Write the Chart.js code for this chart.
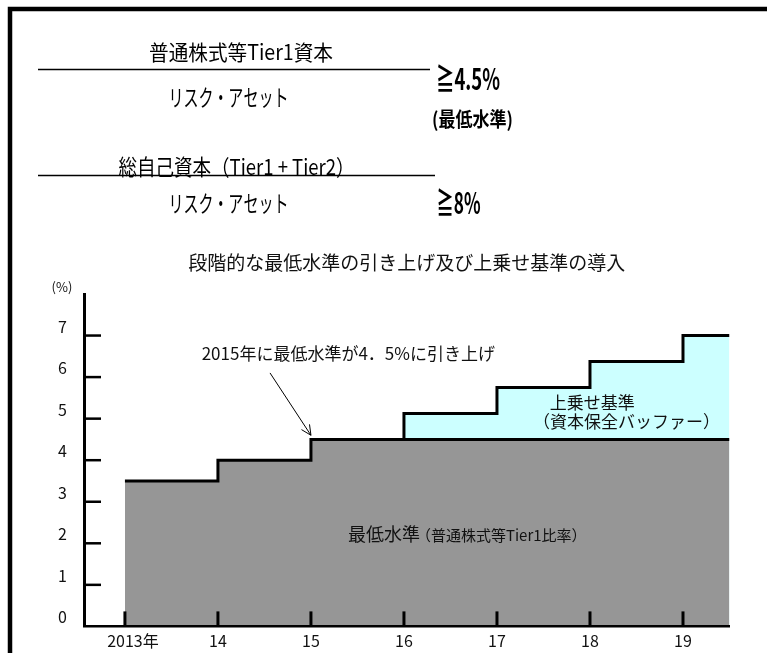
<!DOCTYPE html>
<html lang="ja">
<head>
<meta charset="utf-8">
<title>段階的な最低水準の引き上げ及び上乗せ基準の導入</title>
<script src="https://cdn.jsdelivr.net/npm/chart.js@4/dist/chart.umd.min.js"></script>
<style>
  html, body { margin: 0; padding: 0; background: #fff; overflow: hidden; }
  canvas { display: block; }
</style>
</head>
<body>
<canvas id="graficaCapital" width="767" height="653"></canvas>
<script>
// Years on the x axis and their labels
const years = [2013, 2014, 2015, 2016, 2017, 2018, 2019];
const yearLabels = ['2013年', '14', '15', '16', '17', '18', '19'];
const periodEnd = 2019.5; // the last step runs on to the edge of the plot

// Minimum CET1 ratio (%) per year
const minimumRatio = [3.5, 4.0, 4.5, 4.5, 4.5, 4.5, 4.5];
// Minimum + conservation buffer (%) per year, starts in 2016
const withBuffer = [null, null, null, 5.125, 5.75, 6.375, 7.0];

const yTicks = [0, 1, 2, 3, 4, 5, 6, 7];

const FONT = "'Noto Sans CJK JP', 'Noto Sans', sans-serif";

// Points for the stepped lines
const minimumPoints = years.map((x, i) => ({ x: x, y: minimumRatio[i] }));
minimumPoints.push({ x: periodEnd, y: minimumRatio[minimumRatio.length - 1] });

const firstBuffer = withBuffer.findIndex(v => v !== null);
const bufferPoints = [{ x: years[firstBuffer], y: minimumRatio[firstBuffer] }];
years.forEach((x, i) => {
    if (withBuffer[i] !== null) bufferPoints.push({ x: x, y: withBuffer[i] });
});
bufferPoints.push({ x: periodEnd, y: withBuffer[withBuffer.length - 1] });

// Frame: only the top and left edges show in the picture
const framePlugin = {
    id: 'frame',
    beforeDraw(chart) {
        const ctx = chart.ctx;
        ctx.save();
        ctx.fillStyle = '#fff';
        ctx.fillRect(0, 0, chart.width, chart.height);
        ctx.strokeStyle = '#000';
        ctx.lineWidth = 4.5;
        ctx.beginPath();
        ctx.moveTo(10, chart.height);
        ctx.lineTo(10, 9);
        ctx.lineTo(chart.width, 9);
        ctx.stroke();
        ctx.restore();
    }
};

// Inward tick marks on both axes
const tickMarksPlugin = {
    id: 'tickMarks',
    afterDatasetsDraw(chart) {
        const ctx = chart.ctx;
        const x = chart.scales.x;
        const y = chart.scales.y;
        const area = chart.chartArea;
        ctx.save();
        ctx.strokeStyle = '#000';
        ctx.lineWidth = 2.5;
        y.ticks.forEach(t => {
            if (t.value === 0) return;
            const py = y.getPixelForValue(t.value);
            ctx.beginPath();
            ctx.moveTo(area.left, py);
            ctx.lineTo(area.left + 17, py);
            ctx.stroke();
        });
        ctx.lineWidth = 3;
        x.ticks.forEach(t => {
            const px = x.getPixelForValue(t.value);
            ctx.beginPath();
            ctx.moveTo(px, area.bottom);
            ctx.lineTo(px, area.bottom - 15);
            ctx.stroke();
        });
        ctx.restore();
    }
};

function texto(ctx, t, x, y, size, opts) {
    opts = opts || {};
    ctx.font = (opts.bold ? 'bold ' : '') + size + 'px ' + FONT;
    ctx.textAlign = opts.align || 'center';
    ctx.textBaseline = 'middle';
    ctx.fillStyle = opts.color || '#000';
    if (opts.width) ctx.fillText(t, x, y, opts.width);
    else ctx.fillText(t, x, y);
    return ctx.measureText(t).width;
}

// Formulas above the chart and the notes inside it
const textsPlugin = {
    id: 'texts',
    afterDraw(chart) {
        const ctx = chart.ctx;
        const sx = chart.scales.x;
        const sy = chart.scales.y;
        ctx.save();

        texto(ctx, '普通株式等Tier1資本', 241, 52, 21, { width: 184 });
        texto(ctx, 'リスク・アセット', 228.5, 97, 23, { width: 120 });
        texto(ctx, '≧4.5%', 468, 79, 29, { bold: true, width: 64 });
        texto(ctx, '(最低水準)', 472.5, 119, 20, { bold: true, width: 81 });
        texto(ctx, '総自己資本（Tier1 + Tier2）', 236.5, 167, 22, { width: 236 });
        texto(ctx, 'リスク・アセット', 228.5, 203, 23, { width: 120 });
        texto(ctx, '≧8%', 458.5, 202.5, 29, { bold: true, width: 44 });

        ctx.strokeStyle = '#000';
        ctx.lineWidth = 1.5;
        ctx.beginPath();
        ctx.moveTo(38, 69.5); ctx.lineTo(430, 69.5);
        ctx.moveTo(38, 175.5); ctx.lineTo(435, 175.5);
        ctx.stroke();

        // unit label
        const area = chart.chartArea;
        texto(ctx, '(%)', area.left - 22, area.top - 7, 13, { color: '#111' });

        // note with arrow
        texto(ctx, '2015年に最低水準が4．5%に引き上げ', sx.getPixelForValue(2013.825), sy.getPixelForValue(6.56), 17, { align: 'left', color: '#111' });
        const ax0 = sx.getPixelForValue(2014.56), ay0 = sy.getPixelForValue(6.1);
        const ax1 = sx.getPixelForValue(2015), ay1 = sy.getPixelForValue(4.6);
        ctx.lineWidth = 1;
        ctx.beginPath();
        ctx.moveTo(ax0, ay0);
        ctx.lineTo(ax1, ay1);
        const ang = Math.atan2(ay1 - ay0, ax1 - ax0);
        const len = 11;
        ctx.moveTo(ax1 - len * Math.cos(ang - 0.45), ay1 - len * Math.sin(ang - 0.45));
        ctx.lineTo(ax1, ay1);
        ctx.lineTo(ax1 - len * Math.cos(ang + 0.45), ay1 - len * Math.sin(ang + 0.45));
        ctx.stroke();

        texto(ctx, '上乗せ基準', sx.getPixelForValue(2018.025), sy.getPixelForValue(5.39), 17, { color: '#111' });
        texto(ctx, '（資本保全バッファー）', sx.getPixelForValue(2018.392), sy.getPixelForValue(4.94), 17, { color: '#111' });

        const mx = sx.getPixelForValue(2015.398), my = sy.getPixelForValue(2.21);
        const w = texto(ctx, '最低水準', mx, my, 18, { align: 'left', color: '#111' });
        texto(ctx, '（普通株式等Tier1比率）', mx + w - 4, my + 1, 15, { align: 'left', color: '#111' });

        ctx.restore();
    }
};

const ctx = document.getElementById('graficaCapital').getContext('2d');
new Chart(ctx, {
    type: 'line',
    data: {
        datasets: [
            {
                label: '最低水準（普通株式等Tier1比率）',
                data: minimumPoints,
                stepped: true,
                borderColor: '#000',
                borderWidth: 3,
                backgroundColor: '#969696',
                fill: 'origin',
                pointRadius: 0,
            },
            {
                label: '上乗せ基準（資本保全バッファー）',
                data: bufferPoints,
                stepped: true,
                borderColor: '#000',
                borderWidth: 3,
                backgroundColor: '#ccffff',
                fill: 'origin',
                pointRadius: 0,
            },
        ],
    },
    options: {
        responsive: false,
        animation: false,
        layout: { padding: { left: 0, right: 37.5, top: 0, bottom: 0 } },
        plugins: {
            legend: { display: false },
            tooltip: { enabled: false },
            title: {
                display: true,
                text: '段階的な最低水準の引き上げ及び上乗せ基準の導入',
                fullSize: false,
                color: '#111',
                font: { family: FONT, size: 19, weight: 'normal' },
                padding: { top: 251.6, bottom: 19.6 },
            },
        },
        scales: {
            x: {
                type: 'linear',
                min: 2012.56,
                max: periodEnd,
                afterBuildTicks: s => { s.ticks = years.map(v => ({ value: v })); },
                afterFit: s => { s.height = 25; },
                grid: { display: false, drawTicks: false },
                border: { display: true, color: '#000', width: 2.5, z: 1 },
                ticks: {
                    color: '#111',
                    padding: 5,
                    maxRotation: 0,
                    font: { family: FONT, size: 16 },
                    callback: v => {
                        const label = yearLabels[years.indexOf(v)];
                        // keep the digits of "2013年" centred on the tick
                        return label.endsWith('年') ? '\u3000' + label : label;
                    },
                },
            },
            y: {
                min: 0,
                max: 8,
                afterBuildTicks: s => { s.ticks = yTicks.map(v => ({ value: v })); },
                afterFit: s => { s.width = 84; },
                grid: { display: false, drawTicks: false },
                border: { display: true, color: '#000', width: 3, z: 1 },
                ticks: {
                    color: '#111',
                    padding: 17,
                    labelOffset: -9,
                    font: { family: FONT, size: 16 },
                    callback: v => String(v),
                },
            },
        },
    },
    plugins: [framePlugin, tickMarksPlugin, textsPlugin],
});
</script>
</body>
</html>
